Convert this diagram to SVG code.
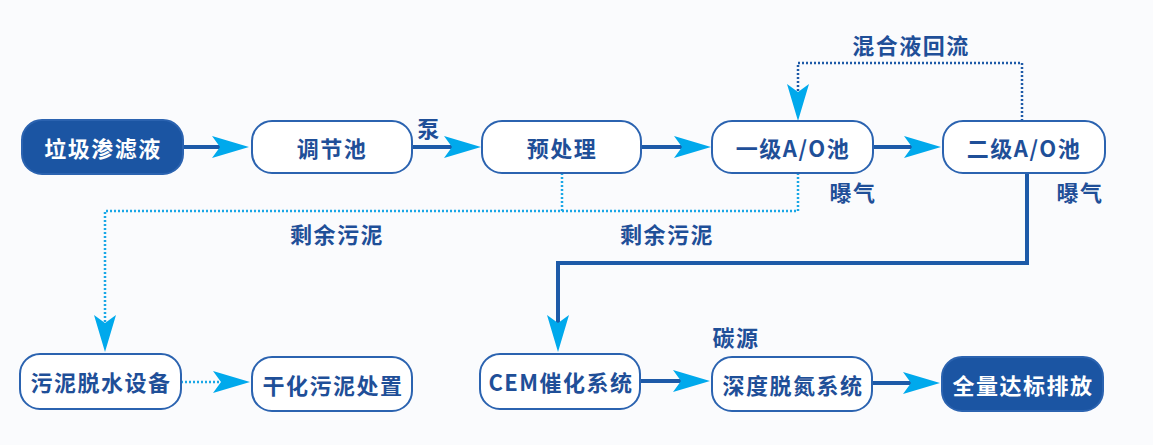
<svg xmlns="http://www.w3.org/2000/svg" width="1153" height="445" viewBox="0 0 1153 445">
<style>
.bg{fill:#fafbfd}
.box{fill:#ffffff;stroke:#2b63b0;stroke-width:2}
.fill{fill:#1b55a3;stroke:#2b63b0;stroke-width:2}
.t{font-family:"Noto Sans CJK SC","Liberation Sans",sans-serif;font-weight:bold;font-size:22px;fill:#1f4f98;text-anchor:middle;dominant-baseline:central;letter-spacing:1.5px}
.w{fill:#ffffff}
.solid{fill:none;stroke:#1d5aa8;stroke-width:4}
.dotc{fill:none;stroke:#1aa7e6;stroke-width:2.5;stroke-dasharray:2 2}
.dotb{fill:none;stroke:#1d5aa8;stroke-width:2.5;stroke-dasharray:2 2}
</style>
<defs>
<marker id="ah" markerUnits="userSpaceOnUse" markerWidth="37" markerHeight="22" refX="8" refY="11" orient="auto" overflow="visible">
<path d="M0,0 L37,11 L0,22 L8,11 Z" fill="#00a9ec"/>
</marker>
</defs>
<rect class="bg" x="0" y="0" width="1153" height="445"/>
<g id="connectors">
<path class="solid" d="M183,147 H220" marker-end="url(#ah)"/>
<path class="solid" d="M412,147 H452" marker-end="url(#ah)"/>
<path class="solid" d="M641,147 H682" marker-end="url(#ah)"/>
<path class="solid" d="M873,147 H912" marker-end="url(#ah)"/>
<path class="dotb" d="M1022,121 V63 H798 V92" marker-end="url(#ah)"/>
<path class="dotc" d="M562,173 V211"/>
<path class="dotc" d="M798,173 V211 H105 V323" marker-end="url(#ah)"/>
<path class="solid" d="M1027,173 V263 H558 V323" marker-end="url(#ah)"/>
<path class="dotc" d="M181,382 H221" marker-end="url(#ah)"/>
<path class="solid" d="M640,381 H681" marker-end="url(#ah)"/>
<path class="solid" d="M872,383 H911" marker-end="url(#ah)"/>
</g>
<g id="labels">
<text class="t" x="429" y="127">泵</text>
<text class="t" x="911" y="44">混合液回流</text>
<text class="t" x="853" y="191">曝气</text>
<text class="t" x="1080" y="191">曝气</text>
<text class="t" x="337" y="233">剩余污泥</text>
<text class="t" x="667" y="233">剩余污泥</text>
<text class="t" x="736" y="336">碳源</text>
</g>
<g id="n1"><rect class="fill" x="22" y="120" width="161" height="54" rx="20"/><text class="t w" x="103" y="147">垃圾渗滤液</text></g>
<g id="n2"><rect class="box" x="252" y="121" width="160" height="52" rx="20"/><text class="t" x="332" y="147">调节池</text></g>
<g id="n3"><rect class="box" x="482" y="121" width="159" height="52" rx="20"/><text class="t" x="562" y="147">预处理</text></g>
<g id="n4"><rect class="box" x="712" y="121" width="161" height="52" rx="20"/><text class="t" x="793" y="147">一级A/O池</text></g>
<g id="n5"><rect class="box" x="943" y="121" width="162" height="52" rx="20"/><text class="t" x="1024" y="147">二级A/O池</text></g>
<g id="n6"><rect class="box" x="20" y="354" width="161" height="55" rx="20"/><text class="t" x="101" y="381">污泥脱水设备</text></g>
<g id="n7"><rect class="box" x="252" y="357" width="160" height="54" rx="20"/><text class="t" x="333" y="384">干化污泥处置</text></g>
<g id="n8"><rect class="box" x="480" y="354" width="160" height="55" rx="20"/><text class="t" x="561" y="381">CEM催化系统</text></g>
<g id="n9"><rect class="box" x="712" y="357" width="160" height="54" rx="20"/><text class="t" x="793" y="384">深度脱氮系统</text></g>
<g id="n10"><rect class="fill" x="942" y="357" width="161" height="54" rx="20"/><text class="t w" x="1023" y="384">全量达标排放</text></g>
</svg>
